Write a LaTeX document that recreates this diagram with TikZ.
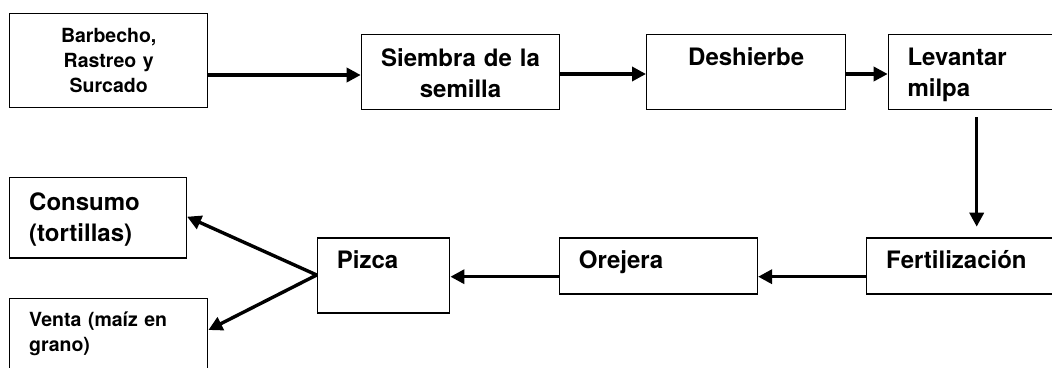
\documentclass[tikz,border=0pt]{standalone}
\usepackage{fontspec}
\setmainfont{TeX Gyre Heros}
\usetikzlibrary{arrows.meta,calc}
\begin{document}
\begin{tikzpicture}[x=1pt,y=-1pt,
 box/.style={draw=black, line width=1.4pt, inner sep=0pt, anchor=north west},
 big/.style={font=\bfseries\fontsize{24}{31}\selectfont},
 small/.style={font=\bfseries\fontsize{19.5}{25}\selectfont},
 lt/.style={anchor=base west, inner sep=0pt, align=left, text width=#1},
 ct/.style={anchor=base, inner sep=0pt, align=center, text width=#1},
 arr/.style={-{Triangle[length=14pt,width=14pt]}, line width=3.4pt},
]
\useasboundingbox (0,0) rectangle (1052,367);
\clip (0,0) rectangle (1052,367);

% top row
\node[box, minimum width=198pt, minimum height=94.3pt,
  label={[ct=190pt,small,yshift=-29.3pt]north:{Barbecho,\\Rastreo y\\Surcado}}] (b1) at (9,12.7) {};
\node[box, minimum width=198.3pt, minimum height=75.3pt,
  label={[ct=190pt,big,yshift=-32.3pt]north:{Siembra de la\\semilla}}] (s) at (360.7,33.7) {};
\node[box, minimum width=199pt, minimum height=75.3pt,
  label={[ct=190pt,big,yshift=-32pt]north:{Deshierbe}}] (d) at (646,33.7) {};
\node[box, minimum width=190pt, minimum height=75.3pt,
  label={[lt=160pt,big,xshift=19.6pt,yshift=-32pt]north west:{Levantar\\milpa}}] (lev) at (887.7,33.7) {};

% middle row
\node[box, minimum width=200pt, minimum height=56pt,
  label={[lt=170pt,big,xshift=20pt,yshift=-31pt]north west:{Fertilización}}] (fert) at (866,237.3) {};
\node[box, minimum width=198pt, minimum height=56pt,
  label={[lt=170pt,big,xshift=20pt,yshift=-31pt]north west:{Orejera}}] (ore) at (558.7,237.3) {};
\node[box, minimum width=132.3pt, minimum height=75pt,
  label={[lt=110pt,big,xshift=20pt,yshift=-31pt]north west:{Pizca}}] (piz) at (316.7,237.3) {};

% outputs
\node[box, minimum width=176.7pt, minimum height=80.6pt,
  label={[lt=160pt,big,xshift=20pt,yshift=-33.3pt]north west:{Consumo\\(tortillas)}}] (con) at (9,176.7) {};
\node[box, minimum width=198pt, minimum height=100pt,
  label={[lt=180pt,small,xshift=20pt,yshift=-28.3pt]north west:{Venta (maíz en\\grano)}}] (ven) at (9,297.7) {};

% connectors
\coordinate (a1) at ($(s.north west)+(0,41.3)$);
\draw[arr] (b1.east |- a1) -- (a1);
\coordinate (a2) at ($(d.north west)+(0,40.3)$);
\draw[arr] (s.east |- a2) -- (a2);
\coordinate (a3) at ($(lev.north west)+(0,40.3)$);
\draw[arr] (d.east |- a3) -- (a3);
\coordinate (a4s) at ($(lev.south west)+(89,7)$);
\coordinate (a4e) at ($(fert.north west)+(110.7,-10.6)$);
\draw[arr] (a4s) -- (a4e);
\coordinate (a5) at ($(ore.north east)+(0,39.4)$);
\draw[arr] (fert.west |- a5) -- (a5);
\coordinate (a6) at ($(piz.north east)+(0,39.4)$);
\draw[arr] (ore.west |- a6) -- (a6);
\coordinate (a7) at ($(piz.north west)+(0,37.7)$);
\coordinate (a8) at ($(con.north east)+(0,40)$);
\coordinate (a9) at ($(ven.north east)+(0,32.3)$);
\draw[arr] (a7) -- (a8);
\draw[arr] (a7) -- (a9);
\end{tikzpicture}
\end{document}
